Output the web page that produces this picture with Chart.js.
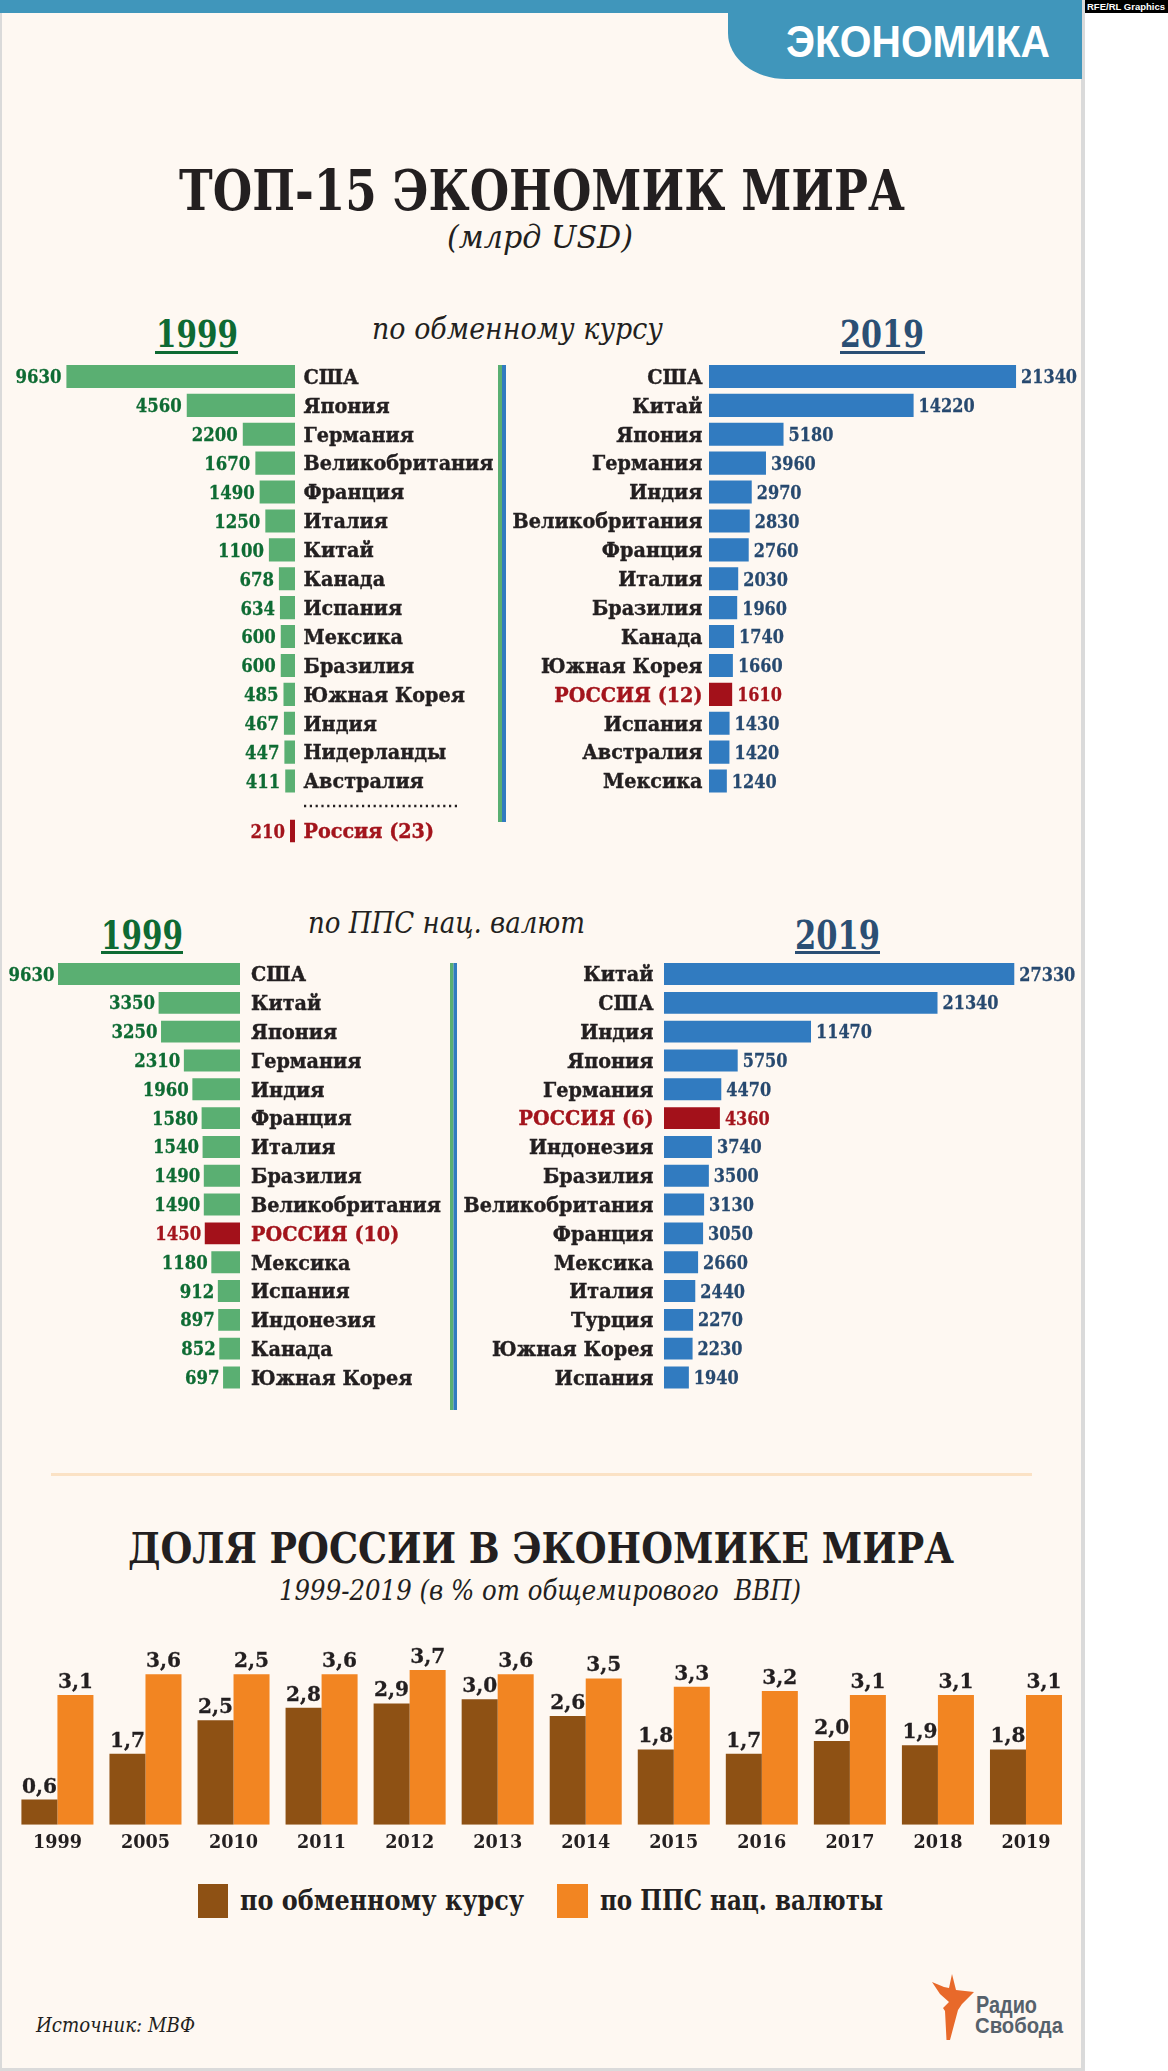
<!DOCTYPE html>
<html><head><meta charset="utf-8">
<script src="https://cdn.jsdelivr.net/npm/chart.js@4.4.1/dist/chart.umd.min.js"></script>
<style>
html,body{margin:0;padding:0;background:#fff;}
#page{position:relative;width:1168px;height:2071px;overflow:hidden;}
#bg{position:absolute;left:0;top:0;}
canvas{position:absolute;}
svg text{white-space:pre;}
.ser{font-family:"DejaVu Serif",serif;}
</style></head><body>
<div id="page">
<svg id="bg" width="1168" height="2071" xmlns="http://www.w3.org/2000/svg">
  <rect x="0" y="0" width="1085" height="2071" fill="#DADADA"/>
  <rect x="2" y="0" width="1079" height="2068" fill="#FEF8F2"/>
  <rect x="0" y="0" width="1082" height="13" fill="#4096BB"/>
  <path d="M728,0 H1082 V79 H786 A58 46 0 0 1 728 33 Z" fill="#4096BB"/>
  <rect x="1085" y="0" width="83" height="13" fill="#000"/>
  <text x="1087" y="10" font-family="Liberation Sans Narrow, Liberation Sans, sans-serif" font-weight="bold" font-size="9" fill="#fff" textLength="78" lengthAdjust="spacingAndGlyphs">RFE/RL Graphics</text>
  <text x="786" y="57" font-family="Liberation Sans Narrow, Liberation Sans, sans-serif" font-weight="bold" font-size="44" fill="#fff" textLength="264" lengthAdjust="spacingAndGlyphs">ЭКОНОМИКА</text>

  <text class="ser" x="179" y="210" font-weight="bold" font-size="56" fill="#231F20" textLength="726" lengthAdjust="spacingAndGlyphs">ТОП-15 ЭКОНОМИК МИРА</text>
  <text class="ser" x="447" y="248" font-style="italic" font-size="31" fill="#231F20" textLength="186" lengthAdjust="spacingAndGlyphs">(млрд USD)</text>

  <text class="ser" x="156" y="347" font-weight="bold" font-size="37" fill="#0E6A33" textLength="82" lengthAdjust="spacingAndGlyphs">1999</text>
  <rect x="155" y="351" width="83" height="3" fill="#0E6A33"/>
  <text class="ser" x="372" y="339" font-style="italic" font-size="29" fill="#231F20" textLength="291" lengthAdjust="spacingAndGlyphs">по обменному курсу</text>
  <text class="ser" x="840" y="347" font-weight="bold" font-size="37" fill="#2B4F74" textLength="84" lengthAdjust="spacingAndGlyphs">2019</text>
  <rect x="840" y="351" width="85" height="3" fill="#2B4F74"/>

  <line x1="304" y1="806" x2="458" y2="806" stroke="#231F20" stroke-width="2.3" stroke-dasharray="2.2 3.6"/>
  <rect x="498" y="365" width="4" height="457" fill="#5AAF72"/>
  <rect x="502" y="365" width="4" height="457" fill="#317BC0"/>

  <text class="ser" x="101" y="949" font-weight="bold" font-size="40" fill="#0E6A33" textLength="82" lengthAdjust="spacingAndGlyphs">1999</text>
  <rect x="101" y="951" width="82" height="3" fill="#0E6A33"/>
  <text class="ser" x="308" y="933" font-style="italic" font-size="30" fill="#231F20" textLength="277" lengthAdjust="spacingAndGlyphs">по ППС нац. валют</text>
  <text class="ser" x="795" y="949" font-weight="bold" font-size="40" fill="#2B4F74" textLength="85" lengthAdjust="spacingAndGlyphs">2019</text>
  <rect x="795" y="951" width="85" height="3" fill="#2B4F74"/>

  <rect x="450" y="963" width="3.5" height="447" fill="#5AAF72"/>
  <rect x="453.5" y="963" width="3.5" height="447" fill="#317BC0"/>

  <rect x="51" y="1473" width="981" height="3" fill="#FBE2C5"/>
  <text class="ser" x="128" y="1563" font-weight="bold" font-size="43" fill="#231F20" textLength="826" lengthAdjust="spacingAndGlyphs">ДОЛЯ РОССИИ В ЭКОНОМИКЕ МИРА</text>
  <text class="ser" x="279" y="1600" font-style="italic" font-size="27" fill="#231F20" textLength="522" lengthAdjust="spacingAndGlyphs">1999-2019 (в % от общемирового  ВВП)</text>

  <rect x="198" y="1884" width="30" height="34" fill="#8E5114"/>
  <text class="ser" x="240" y="1910" font-weight="bold" font-size="28" fill="#231F20" textLength="284" lengthAdjust="spacingAndGlyphs">по обменному курсу</text>
  <rect x="557" y="1884" width="31" height="34" fill="#F28522"/>
  <text class="ser" x="600" y="1910" font-weight="bold" font-size="28" fill="#231F20" textLength="283" lengthAdjust="spacingAndGlyphs">по ППС нац. валюты</text>

  <text class="ser" x="36" y="2032" font-style="italic" font-size="21" fill="#231F20" textLength="159" lengthAdjust="spacingAndGlyphs">Источник: МВФ</text>

  <path d="M952,1974 L956,1990 L974,1992 L962,2004 L958,2010 L950,2040 L946.5,2040 L945,2011 L943,2008 L949,2002 L940,1994 L932,1982 L944,1987 L949,1988 Z" fill="#E8692A"/>
  <text x="976" y="2013" font-family="Liberation Sans, sans-serif" font-weight="bold" font-size="24" fill="#56616B" textLength="61" lengthAdjust="spacingAndGlyphs">Радио</text>
  <text x="975" y="2033" font-family="Liberation Sans, sans-serif" font-weight="bold" font-size="22" fill="#56616B" textLength="88" lengthAdjust="spacingAndGlyphs">Свобода</text>
</svg>
<canvas id="cA" width="498" height="462" style="left:0;top:350px"></canvas>
<canvas id="cA2" width="498" height="40" style="left:0;top:812px"></canvas>
<canvas id="cB" width="576" height="462" style="left:506px;top:350px"></canvas>
<canvas id="cC" width="450" height="450" style="left:0;top:950px"></canvas>
<canvas id="cD" width="625" height="450" style="left:457px;top:950px"></canvas>
<canvas id="cE" width="1082" height="230" style="left:0;top:1630px"></canvas>
</div>
<script>
// ---------- DATA ----------
const fx1999Countries = ["США","Япония","Германия","Великобритания","Франция","Италия","Китай","Канада","Испания","Мексика","Бразилия","Южная Корея","Индия","Нидерланды","Австралия"];
const fx1999Values = [9630,4560,2200,1670,1490,1250,1100,678,634,600,600,485,467,447,411];
const fx1999RussiaLabel = ["Россия (23)"];
const fx1999RussiaValue = [210];

const fx2019Countries = ["США","Китай","Япония","Германия","Индия","Великобритания","Франция","Италия","Бразилия","Канада","Южная Корея","РОССИЯ (12)","Испания","Австралия","Мексика"];
const fx2019Values = [21340,14220,5180,3960,2970,2830,2760,2030,1960,1740,1660,1610,1430,1420,1240];

const ppp1999Countries = ["США","Китай","Япония","Германия","Индия","Франция","Италия","Бразилия","Великобритания","РОССИЯ (10)","Мексика","Испания","Индонезия","Канада","Южная Корея"];
const ppp1999Values = [9630,3350,3250,2310,1960,1580,1540,1490,1490,1450,1180,912,897,852,697];

const ppp2019Countries = ["Китай","США","Индия","Япония","Германия","РОССИЯ (6)","Индонезия","Бразилия","Великобритания","Франция","Мексика","Италия","Турция","Южная Корея","Испания"];
const ppp2019Values = [27330,21340,11470,5750,4470,4360,3740,3500,3130,3050,2660,2440,2270,2230,1940];

const shareYears = ["1999","2005","2010","2011","2012","2013","2014","2015","2016","2017","2018","2019"];
const shareFx = [0.6,1.7,2.5,2.8,2.9,3.0,2.6,1.8,1.7,2.0,1.9,1.8];
const sharePpp = [3.1,3.6,3.6,3.6,3.7,3.6,3.5,3.3,3.2,3.1,3.1,3.1];
const sharePppPrinted = ["3,1","3,6","2,5","3,6","3,7","3,6","3,5","3,3","3,2","3,1","3,1","3,1"];

// ---------- STYLE ----------
const GREEN = "#5AAF72", BLUE = "#317BC0", RED = "#A3111A";
const GREEN_TXT = "#0E6B33", BLUE_TXT = "#27496F", RED_TXT = "#A3141C", DARK = "#231F20";
const BROWN = "#8E5114", ORANGE = "#F28522";
const FAM = '"DejaVu Serif", serif';
const CAP = 0.729;

const mctx = document.createElement('canvas').getContext('2d');
function fitSx(font, sample, target){ mctx.font = font; return target / mctx.measureText(sample).width; }
function isRussia(s){ return /РОССИЯ|Россия/.test(s); }

function drawText(ctx, text, x, y, font, sx, align, color, stroke){
  ctx.save();
  ctx.font = font; ctx.fillStyle = color; ctx.textBaseline = 'alphabetic'; ctx.textAlign = 'left';
  const w = ctx.measureText(text).width * sx;
  const x0 = align === 'left' ? x : (align === 'right' ? x - w : x - w/2);
  ctx.translate(x0, y); ctx.scale(sx, 1);
  ctx.fillText(text, 0, 0);
  if (stroke) { ctx.strokeStyle = color; ctx.lineWidth = stroke; ctx.strokeText(text, 0, 0); }
  ctx.restore();
}

const cSize = 20, cFont = `bold ${cSize}px ${FAM}`;
const cSx = fitSx(cFont, "Великобритания", 190);

function hLabels(cfg){
  return { id: 'hlabels', afterDatasetsDraw(chart){
    const ctx = chart.ctx, area = chart.chartArea;
    const meta = chart.getDatasetMeta(0);
    const vFont = `bold ${cfg.vSize}px ${FAM}`;
    const vSx = fitSx(vFont, cfg.vSample, cfg.vWidth);
    meta.data.forEach((bar, i) => {
      const lbl = chart.data.labels[i];
      const val = chart.data.datasets[0].data[i];
      const ru = isRussia(lbl);
      const yc = bar.y + cSize*CAP/2, yv = bar.y + cfg.vSize*CAP/2;
      if (cfg.side === 'left') {
        const end = Math.max(Math.min(bar.x, bar.base), area.left);
        drawText(ctx, String(val), end - cfg.vGap, yv, vFont, vSx, 'right', ru ? RED_TXT : cfg.vColor, 0.3);
        drawText(ctx, lbl, bar.base + cfg.cGap, yc, cFont, cSx, 'left', ru ? RED_TXT : DARK, 0.4);
      } else {
        const end = Math.min(Math.max(bar.x, bar.base), area.right + 60);
        drawText(ctx, String(val), end + cfg.vGap, yv, vFont, vSx, 'left', ru ? RED_TXT : cfg.vColor, 0.3);
        drawText(ctx, lbl, bar.base - cfg.cGap, yc, cFont, cSx, 'right', ru ? RED_TXT : DARK, 0.4);
      }
    });
  }};
}

function hChart(id, labels, values, opt){
  return new Chart(document.getElementById(id), {
    type: 'bar',
    data: { labels: labels, datasets: [{ data: values,
      backgroundColor: labels.map(l => isRussia(l) ? RED : opt.color),
      barPercentage: opt.barPct, categoryPercentage: 1, clip: 0 }] },
    options: {
      indexAxis: 'y', responsive: false, animation: false, events: [],
      layout: { padding: opt.pad },
      scales: {
        x: { display: false, min: 0, max: opt.max, reverse: opt.side === 'left' },
        y: { display: false }
      },
      plugins: { legend: { display: false }, tooltip: { enabled: false } }
    },
    plugins: [hLabels(opt.lab)]
  });
}

// Section 1: exchange rate
hChart('cA', fx1999Countries, fx1999Values, { color: GREEN, barPct: 0.8, max: 9900, side: 'left',
  pad: { left: 60, right: 203, top: 12, bottom: 16.5 },
  lab: { side: 'left', vSize: 19, vSample: "9630", vWidth: 46, vGap: 5, cGap: 8.5, vColor: GREEN_TXT } });
hChart('cA2', fx1999RussiaLabel, fx1999RussiaValue, { color: GREEN, barPct: 0.77, max: 9900, side: 'left',
  pad: { left: 60, right: 203, top: 4.55, bottom: 6.55 },
  lab: { side: 'left', vSize: 19, vSample: "9630", vWidth: 46, vGap: 5, cGap: 8.5, vColor: GREEN_TXT } });
hChart('cB', fx2019Countries, fx2019Values, { color: BLUE, barPct: 0.8, max: 22240, side: 'right',
  pad: { left: 203, right: 53, top: 12, bottom: 16.5 },
  lab: { side: 'right', vSize: 19, vSample: "21340", vWidth: 56, vGap: 5, cGap: 6.5, vColor: BLUE_TXT } });

// Section 2: PPP
hChart('cC', ppp1999Countries, ppp1999Values, { color: GREEN, barPct: 0.76, max: 7490, side: 'left',
  pad: { left: 58, right: 210, top: 9.6, bottom: 8.1 },
  lab: { side: 'left', vSize: 18, vSample: "9630", vWidth: 46, vGap: 3.5, cGap: 11, vColor: GREEN_TXT } });
hChart('cD', ppp2019Countries, ppp2019Values, { color: BLUE, barPct: 0.76, max: 28400, side: 'right',
  pad: { left: 207, right: 54, top: 9.6, bottom: 8.1 },
  lab: { side: 'right', vSize: 18, vSample: "27330", vWidth: 56, vGap: 5, cGap: 10.5, vColor: BLUE_TXT } });

// Section 3: share of world GDP
const shareLabels = {
  id: 'shareLabels',
  afterDatasetsDraw(chart){
    const ctx = chart.ctx, area = chart.chartArea;
    const vSize = 21, vFont = `bold ${vSize}px ${FAM}`;
    const vSx = fitSx(vFont, "3,6", 35);
    const texts = [shareFx.map(v => v.toFixed(1).replace('.', ',')), sharePppPrinted];
    [0, 1].forEach(d => {
      chart.getDatasetMeta(d).data.forEach((bar, i) => {
        drawText(ctx, texts[d][i], bar.x, bar.y - 7, vFont, vSx, 'center', DARK, 0.3);
      });
    });
    const ySize = 18, yFont = `bold ${ySize}px ${FAM}`;
    const ySx = fitSx(yFont, "2005", 49);
    const xs = chart.scales.x;
    chart.data.labels.forEach((y, i) => {
      drawText(ctx, y, xs.getPixelForValue(i), area.bottom + 23, yFont, ySx, 'center', DARK);
    });
  }
};
new Chart(document.getElementById('cE'), {
  type: 'bar',
  data: { labels: shareYears, datasets: [
    { label: 'по обменному курсу', data: shareFx, backgroundColor: BROWN, barPercentage: 1, categoryPercentage: 0.818 },
    { label: 'по ППС нац. валюты', data: sharePpp, backgroundColor: ORANGE, barPercentage: 1, categoryPercentage: 0.818 }
  ]},
  options: {
    responsive: false, animation: false, events: [],
    layout: { padding: { left: 13.4, right: 12, top: 27.5, bottom: 35.3 } },
    scales: { x: { display: false }, y: { display: false, min: 0, max: 4 } },
    plugins: { legend: { display: false }, tooltip: { enabled: false } }
  },
  plugins: [shareLabels]
});
</script>
</body></html>
